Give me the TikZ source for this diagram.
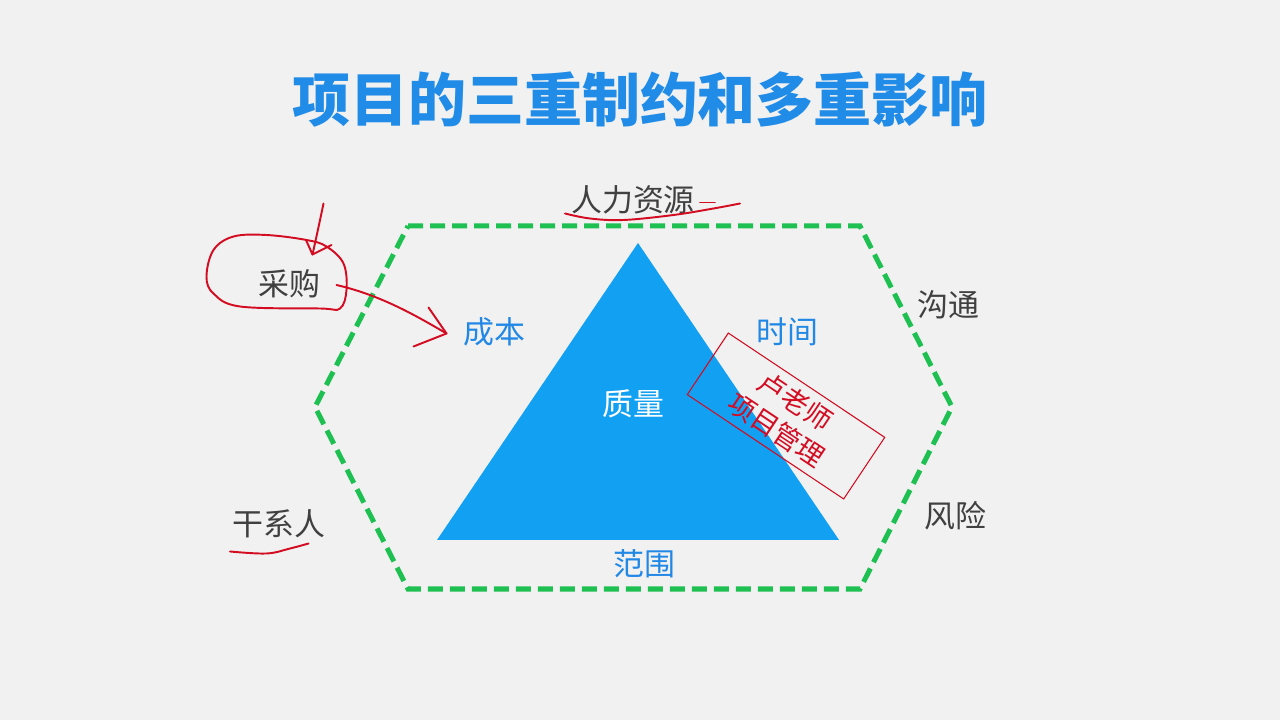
\documentclass[tikz,border=0pt]{standalone}
\usepackage{fontspec}
\setmainfont{Noto Sans CJK SC}
\definecolor{bggray}{RGB}{241,241,241}
\definecolor{titleblue}{RGB}{33,140,232}
\definecolor{labelblue}{RGB}{34,136,230}
\definecolor{triblue}{RGB}{18,160,242}
\definecolor{textgray}{RGB}{64,64,64}
\definecolor{hexgreen}{RGB}{30,192,82}
\definecolor{inkred}{RGB}{212,12,34}
\begin{document}
\begin{tikzpicture}[
    lbl/.style={font=\fontsize{17.6}{20}\selectfont, text=labelblue},
    outer/.style={font=\fontsize{17.6}{20}\selectfont, text=textgray},
    hexline/.style={draw=hexgreen, line width=2.85pt, dash pattern=on 0.3cm off 0.14cm},
    hand/.style={draw=inkred, line width=1.1pt, line cap=round, line join=round},
    stampbox/.style={draw=inkred, line width=0.6pt, text=inkred, align=center,
        font=\fontsize{15.5}{19.5}\selectfont, minimum width=3.76cm, minimum height=1.48cm}
]
    %Background
    \fill[bggray] (0,0) rectangle (25.6,14.4);

    %Title
    \node at (12.8,12.42) (title) {\fontsize{33}{38}\selectfont\bfseries\color{titleblue}项目的三重制约和多重影响};

    %Hexagon
    \coordinate (h1) at (8.16,9.88);
    \coordinate (h2) at (17.2,9.88);
    \coordinate (h3) at (19.04,6.26);
    \coordinate (h4) at (17.2,2.62);
    \coordinate (h5) at (8.16,2.62);
    \coordinate (h6) at (6.3,6.26);
    \draw[hexline] (h1) -- (h2) -- (h3) -- (h4) -- (h5) -- (h6) -- cycle;

    %Triangle
    \coordinate (top)   at (12.76,9.54);
    \coordinate (left)  at (8.74,3.6);
    \coordinate (right) at (16.78,3.6);
    \fill[triblue] (top) -- (left) -- (right) -- cycle;

    %Nodes
    \node[lbl] at (9.88,7.76)   (cost)    {成本};
    \node[lbl] at (15.74,7.76)  (time)    {时间};
    \node[lbl] at (12.88,3.12)  (scope)   {范围};
    \node[lbl, text=white] at (12.66,6.32) (quality) {质量};
    \node[outer] at (12.66,10.4) (hr)     {人力资源};
    \node[outer] at (5.78,8.72)  (proc)   {采购};
    \node[outer] at (18.96,8.3)  (comm)   {沟通};
    \node[outer] at (19.1,4.08)  (risk)   {风险};
    \node[outer] at (5.58,3.92)  (stake)  {干系人};

    %Stamp
    \node[stampbox, rotate=-33.7] at (15.72,6.08) (stamp) {卢老师\\项目管理};

    %Ink
    \draw[hand] plot[smooth cycle, tension=0.6] coordinates {(6.13,9.6) (5.33,9.7) (4.67,9.67) (4.27,9.4)
        (4.13,8.87) (4.27,8.53) (4.8,8.27) (6.4,8.23) (6.8,8.23) (6.93,8.6) (6.87,9.13) (6.53,9.47)};
    \coordinate (downtip) at (6.25,9.31);
    \draw[hand] (6.47,10.33) .. controls (6.38,9.9) .. (downtip);
    \draw[hand] (6.12,9.6) -- (downtip) -- (6.63,9.5);
    \coordinate (costtip) at (8.93,7.73);
    \draw[hand] (6.73,8.7) .. controls (7.6,8.5) and (8.3,8.1) .. (costtip);
    \draw[hand] (8.57,8.25) -- (costtip) -- (8.27,7.47);
    \draw[hand] plot[smooth, tension=0.6] coordinates {(11.3,10.13) (11.8,10.03) (12.47,10.0) (13.47,10.1) (14.27,10.23) (14.8,10.33)};
    \draw[hand] (14.0,10.35) -- (14.3,10.35);
    \draw[hand] plot[smooth, tension=0.6] coordinates {(4.6,3.37) (5.33,3.33) (5.8,3.43) (6.17,3.53)};
\end{tikzpicture}
\end{document}
